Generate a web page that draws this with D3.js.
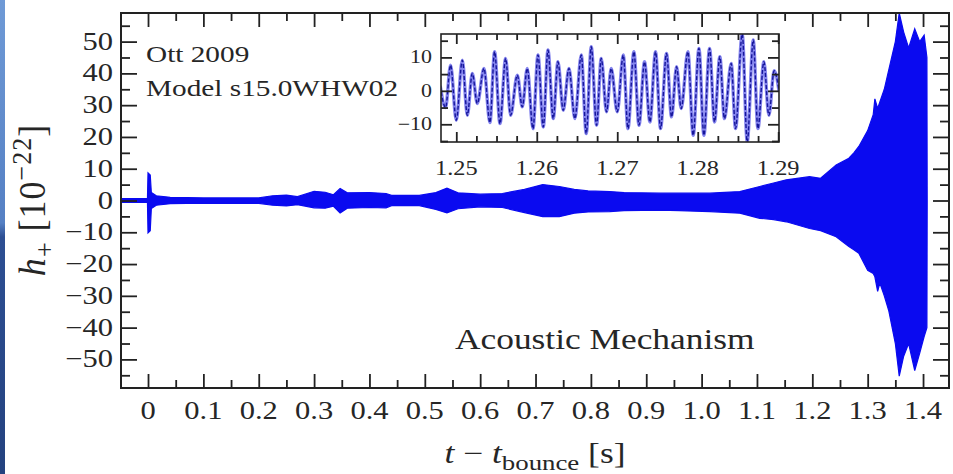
<!DOCTYPE html>
<html>
<head>
<meta charset="utf-8">
<script src="https://cdn.jsdelivr.net/npm/d3@7"></script>
<style>
body { margin: 0; background: #fff; }
svg { display: block; }
text { font-family: "Liberation Serif", "DejaVu Serif", serif; fill: #262626; }
</style>
</head>
<body>
<div id="chart"></div>
<script>
// main waveform, drawn as its envelope (upper / lower edge, units of 1e-22)
var envT  = [-0.049, -0.001, 0.0, 0.004, 0.006, 0.015, 0.04, 0.1, 0.2, 0.225, 0.25, 0.27, 0.3, 0.32, 0.335, 0.347, 0.36, 0.4, 0.43, 0.44, 0.49, 0.52, 0.54, 0.56, 0.6, 0.64, 0.68, 0.713, 0.743, 0.77, 0.795, 0.834, 0.86, 0.925, 0.96, 1.015, 1.069, 1.105, 1.13, 1.153, 1.195, 1.215, 1.243, 1.266, 1.275, 1.284, 1.3, 1.31, 1.313, 1.318, 1.322, 1.33, 1.338, 1.35, 1.357, 1.365, 1.374, 1.385, 1.394, 1.402, 1.407, 1.4075];
var envHi = [0.6, 0.6, 8.7, 8.0, 2.5, 1.5, 1.0, 0.8, 0.8, 1.5, 1.7, 1.2, 2.9, 2.6, 1.8, 3.8, 2.4, 2.5, 2.2, 1.6, 1.6, 2.5, 3.9, 2.4, 2.0, 2.2, 3.5, 5.0, 4.4, 3.5, 3.0, 2.8, 2.5, 2.3, 2.3, 2.3, 2.8, 4.4, 5.5, 6.5, 7.5, 7.0, 11.2, 13.3, 15.0, 17.0, 22.0, 27.0, 32.0, 29.0, 31.0, 35.0, 41.0, 50.0, 59.0, 53.0, 48.0, 54.0, 50.0, 52.0, 45.0, 0];
var envLo = [-0.6, -0.6, -10.2, -9.5, -2.5, -1.5, -1.0, -0.8, -0.9, -1.5, -1.7, -1.3, -2.3, -2.4, -1.8, -3.9, -2.4, -2.2, -2.3, -1.6, -1.6, -2.8, -3.9, -2.6, -2.0, -2.2, -3.8, -5.1, -5.1, -4.0, -3.6, -3.5, -3.2, -3.0, -3.2, -3.5, -4.0, -5.6, -6.0, -6.7, -8.8, -9.5, -11.4, -14.5, -15.5, -16.6, -22.0, -23.0, -24.0, -28.6, -26.0, -30.0, -34.6, -45.0, -55.3, -49.0, -45.0, -53.5, -48.0, -42.8, -40.0, 0];

// inset: successive peaks and troughs of h+ between 1.248 s and 1.290 s
var insT = [1.2480, 1.24867, 1.24929, 1.2500, 1.25075, 1.25137, 1.25199, 1.25261, 1.25344, 1.25418, 1.25476, 1.25543, 1.25613, 1.25675, 1.25758, 1.2582, 1.25882, 1.25953, 1.26015, 1.26081, 1.26139, 1.26205, 1.26263, 1.26329, 1.264, 1.26474, 1.26553, 1.26615, 1.26677, 1.26743, 1.26801, 1.26867, 1.26925, 1.2700, 1.27075, 1.27133, 1.27207, 1.2727, 1.27339, 1.27406, 1.27476, 1.27538, 1.27612, 1.27675, 1.27737, 1.27795, 1.27878, 1.27944, 1.28015, 1.28077, 1.28147, 1.28209, 1.28275, 1.28332, 1.28416, 1.2847, 1.28553, 1.28615, 1.2869, 1.28748, 1.28822, 1.28884, 1.2895, 1.2901];
var insH = [1.5, -5.0, 7.7, -8.8, 9.2, -7.3, 5.2, -3.8, 6.7, -9.5, 11.7, -9.8, 9.7, -7.3, 4.7, -4.8, 6.7, -11.3, 10.7, -10.8, 12.2, -8.3, 8.7, -5.8, 6.7, -8.3, 10.7, -12.8, 13.2, -10.3, 9.7, -6.3, 6.7, -6.3, 10.7, -11.3, 11.7, -10.3, 8.7, -9.3, 11.7, -11.3, 11.2, -7.8, 7.2, -5.3, 11.7, -13.3, 12.7, -13.3, 12.7, -9.3, 10.2, -8.3, 8.2, -11.3, 17.0, -15.3, 15.2, -11.3, 8.7, -7.3, 6.0, 0];

// ticks and labels
var xTicks = [0, 0.1, 0.2, 0.3, 0.4, 0.5, 0.6, 0.7, 0.8, 0.9, 1.0, 1.1, 1.2, 1.3, 1.4];
var xLabels = ["0", "0.1", "0.2", "0.3", "0.4", "0.5", "0.6", "0.7", "0.8", "0.9", "1.0", "1.1", "1.2", "1.3", "1.4"];
var yTicks = [50, 40, 30, 20, 10, 0, -10, -20, -30, -40, -50];
var insXTicks = [1.25, 1.26, 1.27, 1.28, 1.29];
var insXLabels = ["1.25", "1.26", "1.27", "1.28", "1.29"];
var insYTicks = [10, 0, -10];

var W = 953, H = 474;
var SX = 1.22;   // the picture is stretched sideways, so is its text

var svg = d3.select("#chart").append("svg").attr("width", W).attr("height", H);

// bit of slide background on the left edge
var grad = svg.append("defs").append("linearGradient").attr("id", "side")
    .attr("x1", 0).attr("y1", 0).attr("x2", 0).attr("y2", 1);
grad.append("stop").attr("offset", "0").attr("stop-color", "#6f9ad6");
grad.append("stop").attr("offset", "0.47").attr("stop-color", "#5580c4");
grad.append("stop").attr("offset", "0.5").attr("stop-color", "#2d4f93");
grad.append("stop").attr("offset", "1").attr("stop-color", "#24427f");
svg.append("rect").attr("x", 0).attr("y", 0).attr("width", 5).attr("height", H).attr("fill", "url(#side)");

function stext(g, x, y, str, size, anchor) {
    return g.append("text")
        .attr("transform", "translate(" + x + "," + y + ") scale(" + SX + ",1)")
        .attr("text-anchor", anchor || "start")
        .style("font-size", size + "px")
        .text(str);
}

// ---- main plot
var x = d3.scaleLinear().domain([-0.0488, 1.4469]).range([121, 949]);
var y = d3.scaleLinear().domain([-59, 59]).range([388, 13]);

svg.append("defs").append("clipPath").attr("id", "clipMain")
    .append("rect").attr("x", 121).attr("y", 13).attr("width", 828).attr("height", 375);

var env = envT.map(function (t, i) { return {t: t, hi: envHi[i], lo: envLo[i]}; });
var area = d3.area()
    .x(function (d) { return x(d.t); })
    .y0(function (d) { return y(d.lo); })
    .y1(function (d) { return y(d.hi); });

svg.append("path").datum(env)
    .attr("clip-path", "url(#clipMain)")
    .attr("d", area)
    .attr("fill", "#0a0af0")
    .attr("stroke", "#0a0af0")
    .attr("stroke-width", 1.2);

var xMinor = d3.range(0.05, 1.45, 0.1);
var yMinor = d3.range(-55, 60, 10);

function ticks(axisFn, scale, vals, len, tr) {
    var g = svg.append("g").attr("transform", tr)
        .call(axisFn(scale).tickValues(vals).tickSize(len).tickFormat(""));
    g.select(".domain").remove();
    g.selectAll("line").attr("stroke", "#222").attr("stroke-width", 1.8);
}
ticks(d3.axisBottom, x, xTicks, -14, "translate(0,388)");
ticks(d3.axisBottom, x, xMinor, -8, "translate(0,388)");
ticks(d3.axisTop, x, xTicks, -14, "translate(0,13)");
ticks(d3.axisTop, x, xMinor, -8, "translate(0,13)");
ticks(d3.axisLeft, y, yTicks, -16, "translate(121,0)");
ticks(d3.axisLeft, y, yMinor, -9, "translate(121,0)");
ticks(d3.axisRight, y, yTicks, -16, "translate(949,0)");
ticks(d3.axisRight, y, yMinor, -9, "translate(949,0)");

svg.append("rect").attr("x", 121).attr("y", 13).attr("width", 828).attr("height", 375)
    .attr("fill", "none").attr("stroke", "#222").attr("stroke-width", 2);

xTicks.forEach(function (v, i) { stext(svg, x(v), 419, xLabels[i], 25, "middle"); });
yTicks.forEach(function (v) {
    stext(svg, 113, y(v) + 8, v < 0 ? "\u2212" + Math.abs(v) : String(v), 25, "end");
});

// axis titles
var xt = svg.append("text")
    .attr("transform", "translate(535,463) scale(" + SX + ",1)")
    .attr("text-anchor", "middle")
    .style("font-size", "29px");
xt.append("tspan").style("font-style", "italic").text("t");
xt.append("tspan").text(" \u2212 ");
xt.append("tspan").style("font-style", "italic").text("t");
xt.append("tspan").attr("dy", 7).style("font-size", "22px").text("bounce");
xt.append("tspan").attr("dy", -7).text(" [s]");

var yt = svg.append("text")
    .attr("transform", "translate(45,200) scale(1.08,1) rotate(-90)")
    .attr("text-anchor", "middle")
    .style("font-size", "36px")
    .style("letter-spacing", "1px");
yt.append("tspan").style("font-style", "italic").text("h");
yt.append("tspan").attr("dy", 8).style("font-size", "26px").text("+");
yt.append("tspan").attr("dy", -8).text(" [10");
yt.append("tspan").attr("dy", -13).style("font-size", "26px").text("\u221222");
yt.append("tspan").attr("dy", 13).text("]");

stext(svg, 146, 62, "Ott 2009", 24);
stext(svg, 146, 96, "Model s15.0WHW02", 24);
stext(svg, 455, 349, "Acoustic Mechanism", 29);

// ---- inset
var xi = d3.scaleLinear().domain([1.2481, 1.2901]).range([441, 779]);
var yi = d3.scaleLinear().domain([-15.3, 17]).range([142, 34]);

svg.append("rect").attr("x", 441).attr("y", 34).attr("width", 338).attr("height", 108).attr("fill", "#fff");
svg.append("defs").append("clipPath").attr("id", "clipIns")
    .append("rect").attr("x", 441).attr("y", 34).attr("width", 338).attr("height", 108);

var ins = insT.map(function (t, i) { return {t: t, h: insH[i]}; });
var line = d3.line()
    .x(function (d) { return xi(d.t); })
    .y(function (d) { return yi(d.h); })
    .curve(d3.curveMonotoneX);
var gi = svg.append("g").attr("clip-path", "url(#clipIns)");
gi.append("path").datum(ins).attr("d", line)
    .attr("fill", "none").attr("stroke", "#8585ee").attr("stroke-width", 3.4);
gi.append("path").datum(ins).attr("d", line)
    .attr("fill", "none").attr("stroke", "#16169a").attr("stroke-width", 1.4)
    .attr("stroke-dasharray", "4,2");

var insXMinor = d3.range(1.2475, 1.29, 0.0025).filter(function (v) {
    return Math.abs(Math.round(v * 100) / 100 - v) > 1e-6 && v > 1.2481;
});
var insYMinor = [-15, -5, 5, 15];
ticks(d3.axisBottom, xi, insXTicks, -10, "translate(0,142)");
ticks(d3.axisBottom, xi, insXMinor, -6, "translate(0,142)");
ticks(d3.axisTop, xi, insXTicks, -10, "translate(0,34)");
ticks(d3.axisTop, xi, insXMinor, -6, "translate(0,34)");
ticks(d3.axisLeft, yi, insYTicks, -11, "translate(441,0)");
ticks(d3.axisLeft, yi, insYMinor, -7, "translate(441,0)");
ticks(d3.axisRight, yi, insYTicks, -11, "translate(779,0)");
ticks(d3.axisRight, yi, insYMinor, -7, "translate(779,0)");

svg.append("rect").attr("x", 441).attr("y", 34).attr("width", 338).attr("height", 108)
    .attr("fill", "none").attr("stroke", "#222").attr("stroke-width", 1.6);

insXTicks.forEach(function (v, i) { stext(svg, xi(v), 175, insXLabels[i], 20, "middle"); });
insYTicks.forEach(function (v) {
    stext(svg, 432, yi(v) + 6, v < 0 ? "\u2212" + Math.abs(v) : String(v), 18, "end");
});
</script>
</body>
</html>
